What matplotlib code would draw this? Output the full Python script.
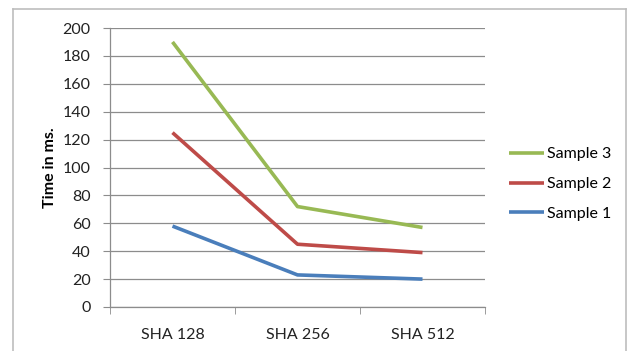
import numpy as np
import matplotlib.pyplot as plt
from matplotlib.lines import Line2D

plt.rcParams['font.family'] = ['Lato', 'DejaVu Sans']

categories = ['SHA 128', 'SHA 256', 'SHA 512']
sample1 = [58, 23, 20]
sample2 = [125, 45, 39]
sample3 = [190, 72, 57]
yticks = [0, 20, 40, 60, 80, 100, 120, 140, 160, 180, 200]

W, H = 629, 351
fs = 11.5
fig = plt.figure(figsize=(W / 100, H / 100), dpi=100)
ax = fig.add_axes([110 / W, 1 - 307 / H, 375 / W, 279 / H])

x = np.arange(len(categories))
ax.plot(x, sample1, color='#4a7ebb', lw=2.6, label='Sample 1', solid_capstyle='butt')
ax.plot(x, sample2, color='#be4b48', lw=2.6, label='Sample 2', solid_capstyle='butt')
ax.plot(x, sample3, color='#98b954', lw=2.6, label='Sample 3', solid_capstyle='butt')

ax.set_xlim(-0.5, len(categories) - 0.5)
ax.set_ylim(0, 200)
ax.set_yticks(yticks)
ax.set_yticklabels([str(v) for v in yticks], fontsize=fs, color='#222222')
ax.yaxis.grid(True, color='#8c8c8c', lw=0.9)
ax.set_axisbelow(True)

# category labels sit between the boundary ticks
ax.set_xticks(x)
ax.set_xticklabels(categories, fontsize=fs, color='#222222')
ax.tick_params(axis='x', length=0, pad=15)
ax.set_xticks(np.arange(len(categories) + 1) - 0.5, minor=True)
ax.tick_params(axis='x', which='minor', length=5, color='#8c8c8c', direction='out')
ax.tick_params(axis='y', length=5, color='#8c8c8c', direction='out', pad=9)

for s in ['top', 'right']:
    ax.spines[s].set_visible(False)
for s in ['left', 'bottom']:
    ax.spines[s].set_color('#8c8c8c')
    ax.spines[s].set_linewidth(0.9)

ax.set_ylabel('Time in ms.', fontsize=fs, fontweight='bold', labelpad=4)

handles, labels = ax.get_legend_handles_labels()
fig.legend(handles[::-1], labels[::-1], loc='center left',
           bbox_to_anchor=(509 / W, 1 - 184 / H), bbox_transform=fig.transFigure,
           frameon=False, fontsize=fs, handlelength=2.2, handletextpad=0.15,
           labelspacing=0.98, borderpad=0, borderaxespad=0)

# outer chart border
bc = '#bdbdbd'
fig.add_artist(Line2D([13 / W, 13 / W], [1 - 9 / H, 0], color=bc, lw=1.2))
fig.add_artist(Line2D([13 / W, 626 / W], [1 - 9 / H, 1 - 9 / H], color=bc, lw=1.2))
fig.add_artist(Line2D([626 / W, 626 / W], [1 - 9 / H, 0], color=bc, lw=1.2))

fig.savefig('out.png', dpi=100)
